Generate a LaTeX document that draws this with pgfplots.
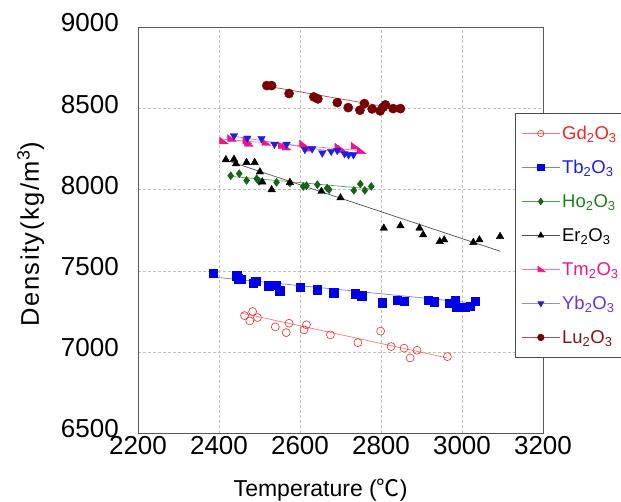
\documentclass[border=0pt]{standalone}
\usepackage{fontspec}
\setmainfont{Liberation Sans}
\newfontfamily\cjk{Noto Sans CJK JP}
\newfontfamily\ylabfont[LetterSpace=6]{Liberation Sans}
\usepackage{pgfplots}
\pgfplotsset{compat=1.18}
\definecolor{gdc}{RGB}{240,40,40}
\definecolor{gdl}{RGB}{250,120,120}
\definecolor{tbc}{RGB}{0,0,230}
\definecolor{tbt}{RGB}{30,30,230}
\definecolor{tbl}{RGB}{120,120,250}
\definecolor{hoc}{RGB}{20,100,20}
\definecolor{hot}{RGB}{30,130,30}
\definecolor{hol}{RGB}{80,160,80}
\definecolor{erc}{RGB}{0,0,0}
\definecolor{erl}{RGB}{80,80,80}
\definecolor{tmc}{RGB}{240,20,140}
\definecolor{tml}{RGB}{250,110,180}
\definecolor{ybc}{RGB}{30,30,220}
\definecolor{ybt}{RGB}{110,50,220}
\definecolor{ybl}{RGB}{160,130,250}
\definecolor{luc}{RGB}{120,0,0}
\definecolor{lut}{RGB}{130,20,20}
\definecolor{lul}{RGB}{170,80,80}
\pgfdeclareplotmark{wedge}{%
  \pgfpathmoveto{\pgfqpoint{-0.9\pgfplotmarksize}{\pgfplotmarksize}}%
  \pgfpathlineto{\pgfqpoint{-0.9\pgfplotmarksize}{-0.7\pgfplotmarksize}}%
  \pgfpathlineto{\pgfqpoint{1.3\pgfplotmarksize}{-0.7\pgfplotmarksize}}%
  \pgfpathclose\pgfusepathqfillstroke}
\pgfplotsset{lineleg/.style={legend image code/.code={\draw[#1, line width=0.7pt] (0pt,0pt)--(38pt,0pt); \draw[##1, only marks, mark size=3.2pt] plot coordinates {(19pt,0pt)};}}}
\begin{document}
\begin{tikzpicture}
\begin{axis}[
  at={(138pt,68pt)}, anchor=south west, scale only axis,
  width=405pt, height=405.5pt,
  xmin=2200, xmax=3200, ymin=6500, ymax=9000,
  xtick={2200,2400,...,3200}, ytick={6500,7000,...,9000},
  /pgf/number format/assume math mode=true,
  /pgf/number format/1000 sep={},
  tick label style={font=\fontsize{26}{30}\selectfont},
  yticklabel style={anchor=east, inner sep=0pt, xshift=-19pt, yshift=4.5pt},
  xticklabel style={anchor=north, inner sep=0pt, yshift=-3pt},
  major tick length=0pt,
  grid=major,
  major grid style={gray!50, line width=0.6pt, dash pattern=on 3pt off 2pt},
  axis line style={gray!70!black, line width=0.8pt},
  xlabel={Temperature ({\cjk ℃})},
  ylabel={\ylabfont Density(kg/m\textsuperscript{3})},
  xlabel style={font=\fontsize{23}{26}\selectfont, at={(axis description cs:0.451,-0.141)}, anchor=center},
  ylabel style={font=\fontsize{25.5}{30}\selectfont, at={(axis description cs:-0.265,0.49)}, anchor=center},
  legend style={at={(axis description cs:0.931,0.789)}, anchor=north west,
    draw=gray!60!black, line width=0.8pt, fill=white,
    inner xsep=6pt, inner ysep=3pt, row sep=0pt,
    font=\fontsize{18.5}{21}\selectfont,
    nodes={minimum height=34pt, inner ysep=0pt, inner xsep=2pt, line width=0.6pt}},
  legend cell align=left,
]
% Gd2O3
\addplot[only marks, mark=o, color=gdc, mark size=4pt, mark options={line width=0.6pt}, lineleg=gdl]
 coordinates {(2463,7224)(2483,7249)(2476,7191)(2495,7212)(2539,7154)(2573,7177)(2566,7119)(2610,7136)(2616,7167)(2675,7105)(2743,7057)(2799,7128)(2825,7033)(2857,7023)(2889,7010)(2872,6963)(2964,6971)};
\addlegendentry{\textcolor{gdc}{Gd\textsubscript{2}O\textsubscript{3}}}
% Tb2O3
\addplot[only marks, mark=square*, color=tbc, mark size=4.2pt, lineleg=tbl]
 coordinates {(2385,7486)(2444,7471)(2447,7451)(2454,7449)(2484,7422)(2491,7436)(2523,7407)(2541,7413)(2550,7377)(2601,7399)(2642,7383)(2683,7366)(2737,7358)(2752,7347)(2803,7304)(2840,7317)(2858,7313)(2916,7317)(2931,7309)(2969,7301)(2983,7315)(2987,7274)(3008,7274)(3020,7280)(3032,7313)};
\addlegendentry{\textcolor{tbt}{Tb\textsubscript{2}O\textsubscript{3}}}
% Ho2O3
\addplot[only marks, mark=diamond*, color=hoc, mark size=4pt, lineleg=hol]
 coordinates {(2429,8086)(2450,8099)(2468,8057)(2493,8068)(2499,8051)(2542,8045)(2575,8041)(2608,8020)(2616,8025)(2643,8031)(2667,8010)(2672,8000)(2733,7996)(2749,8035)(2760,7996)(2776,8020)};
\addlegendentry{\textcolor{hot}{Ho\textsubscript{2}O\textsubscript{3}}}
% Er2O3
\addplot[only marks, mark=triangle*, color=erc, mark size=4.3pt, lineleg=erl]
 coordinates {(2417,8185)(2437,8188)(2442,8160)(2468,8168)(2488,8168)(2501,8110)(2507,8048)(2530,8000)(2575,8045)(2653,7990)(2700,7950)(2807,7763)(2848,7778)(2895,7763)(2904,7722)(2945,7681)(2956,7691)(3028,7675)(3043,7691)(3094,7712)};
\addlegendentry{\textcolor{erc}{Er\textsubscript{2}O\textsubscript{3}}}
% Tm2O3
\addplot[only marks, mark=wedge, color=tmc, mark size=4pt, lineleg=tml]
 coordinates {(2410,8300)(2430,8315)(2468,8300)(2472,8285)(2515,8290)(2555,8270)(2565,8262)(2608,8280)(2618,8255)(2695,8262)(2703,8248)(2735,8268)(2750,8240)};
\addlegendentry{\textcolor{tmc}{Tm\textsubscript{2}O\textsubscript{3}}}
% Yb2O3
\addplot[only marks, mark=triangle*, mark options={rotate=180}, color=ybc, mark size=4.3pt, lineleg=ybl]
 coordinates {(2437,8333)(2470,8318)(2505,8315)(2537,8280)(2567,8280)(2612,8248)(2630,8252)(2655,8226)(2677,8236)(2692,8242)(2710,8222)(2720,8215)(2732,8215)};
\addlegendentry{\textcolor{ybt}{Yb\textsubscript{2}O\textsubscript{3}}}
% Lu2O3
\addplot[only marks, mark=*, color=luc, mark size=4.6pt, lineleg=lul]
 coordinates {(2518,8642)(2530,8642)(2573,8593)(2634,8572)(2644,8560)(2692,8537)(2719,8506)(2748,8490)(2759,8531)(2778,8498)(2798,8486)(2805,8508)(2811,8523)(2830,8500)(2848,8500)};
\addlegendentry{\textcolor{lut}{Lu\textsubscript{2}O\textsubscript{3}}}
% fit lines
\addplot[gdl, line width=0.7pt, forget plot] coordinates {(2455,7240)(2963,6963)};
\addplot[tbl, line width=0.7pt, forget plot] coordinates {(2385,7462)(3035,7300)};
\addplot[hol, line width=0.7pt, forget plot] coordinates {(2429,8082)(2778,8004)};
\addplot[erl, line width=0.7pt, forget plot] coordinates {(2410,8188)(3095,7620)};
\addplot[tml, line width=0.7pt, forget plot] coordinates {(2405,8312)(2755,8240)};
\addplot[ybl, line width=0.7pt, forget plot] coordinates {(2435,8330)(2735,8215)};
\addplot[lul, line width=0.7pt, forget plot] coordinates {(2515,8640)(2850,8495)};
\end{axis}
\pgfresetboundingbox
\path[use as bounding box] (0pt,0pt) rectangle (621pt,501pt);
\end{tikzpicture}
\end{document}
